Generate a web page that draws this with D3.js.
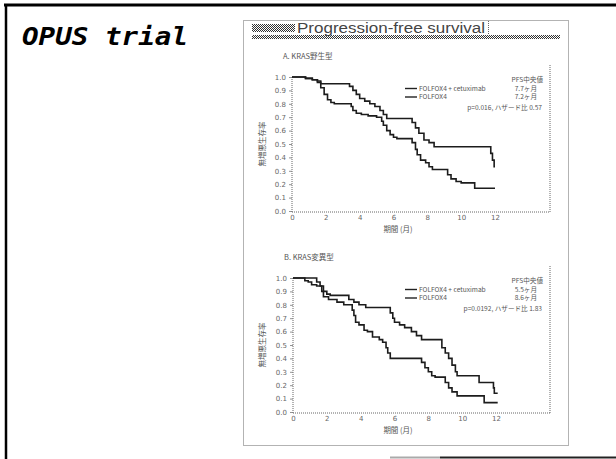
<!DOCTYPE html>
<html>
<head>
<meta charset="utf-8">
<script src="https://cdn.jsdelivr.net/npm/d3@7"></script>
<style>
  body { margin: 0; background: #fff; }
  svg { display: block; }
  .tick text { font-family: "DejaVu Sans", sans-serif; font-size: 7px; fill: #666; }
  .tick line { stroke: #777; stroke-width: 0.8; }
  .small { font-family: "Noto Sans CJK JP", sans-serif; font-size: 7.5px; fill: #555; }
  .leg { font-family: "Noto Sans CJK JP", sans-serif; font-size: 6.6px; fill: #555; }
  .dotted { fill: none; stroke: #666; stroke-width: 1; stroke-dasharray: 1,1; }
  .km { fill: none; stroke: #1c1c1c; stroke-width: 1.6; }
</style>
</head>
<body>
<svg id="chart" width="616" height="459"></svg>
<script>
// tick labels
var months = [0, 2, 4, 6, 8, 10, 12];
var survTicks = [0, 0.1, 0.2, 0.3, 0.4, 0.5, 0.6, 0.7, 0.8, 0.9, 1.0];

// A. KRAS wild type  [month, survival]
var wtCetux = [[0,1.0],[0.8,0.99],[1.2,0.98],[1.5,0.97],[1.7,0.95],[3.4,0.93],[3.6,0.90],[3.8,0.87],
  [4.0,0.84],[4.3,0.82],[4.6,0.80],[4.9,0.78],[5.2,0.75],[5.4,0.72],[5.6,0.69],[7.1,0.66],[7.3,0.62],
  [7.5,0.58],[7.8,0.53],[8.1,0.51],[8.4,0.48],[11.75,0.43],[11.85,0.38],[11.95,0.33],[12.0,0.33]];
var wtFolfox = [[0,1.0],[0.8,0.99],[1.2,0.98],[1.5,0.96],[1.7,0.92],[1.9,0.87],[2.1,0.83],[2.3,0.81],
  [2.5,0.80],[3.5,0.78],[3.6,0.75],[3.8,0.73],[4.1,0.72],[4.5,0.71],[5.0,0.70],[5.3,0.67],[5.4,0.64],
  [5.6,0.60],[5.8,0.57],[6.0,0.55],[6.2,0.54],[7.1,0.51],[7.3,0.46],[7.4,0.42],[7.6,0.38],[7.9,0.36],
  [8.1,0.33],[8.3,0.31],[9.2,0.27],[9.4,0.24],[9.7,0.22],[10.0,0.21],[10.8,0.17],[12.0,0.17]];

// B. KRAS mutant
var mtCetux = [[0,1.0],[0.7,0.98],[0.9,0.97],[1.1,0.95],[1.4,0.94],[1.7,0.90],[1.8,0.86],[2.1,0.84],
  [2.6,0.82],[3.0,0.80],[3.5,0.76],[3.6,0.72],[3.7,0.67],[3.9,0.65],[4.2,0.61],[4.4,0.60],[4.7,0.56],
  [5.1,0.54],[5.3,0.52],[5.5,0.48],[5.6,0.44],[5.75,0.40],[7.6,0.37],[7.8,0.33],[8.0,0.30],[8.2,0.27],
  [8.4,0.26],[9.0,0.22],[9.2,0.18],[9.4,0.15],[9.7,0.12],[11.3,0.07],[12.1,0.07]];
var mtFolfox = [[0,1.0],[1.4,0.97],[1.6,0.94],[1.8,0.90],[2.0,0.88],[2.2,0.87],[3.3,0.84],[3.6,0.82],
  [3.9,0.80],[4.3,0.78],[5.75,0.74],[5.9,0.70],[6.0,0.67],[6.3,0.65],[6.6,0.63],[7.0,0.60],[7.3,0.57],
  [7.6,0.54],[8.8,0.48],[9.0,0.44],[9.2,0.40],[9.4,0.35],[9.6,0.30],[9.7,0.27],[11.0,0.22],[11.85,0.18],
  [11.9,0.14],[12.1,0.14]];

var armNames = ["FOLFOX4 + cetuximab", "FOLFOX4"];
var wtMedians = ["7.7ヶ月", "7.2ヶ月"];
var mtMedians = ["5.5ヶ月", "8.6ヶ月"];

var svg = d3.select("#chart");

// stipple pattern for the title band
var defs = svg.append("defs");
var pat = defs.append("pattern").attr("id", "stip")
  .attr("width", 2).attr("height", 2).attr("patternUnits", "userSpaceOnUse");
pat.append("rect").attr("width", 2).attr("height", 2).attr("fill", "#fff");
pat.append("rect").attr("width", 1).attr("height", 1).attr("fill", "#333");
pat.append("rect").attr("x", 1).attr("y", 1).attr("width", 1).attr("height", 1).attr("fill", "#333");

// outer black frame of the slide
svg.append("line").attr("x1", 4).attr("x2", 616).attr("y1", 5).attr("y2", 5)
  .attr("stroke", "#000").attr("stroke-width", 3);
svg.append("line").attr("x1", 6).attr("x2", 6).attr("y1", 4).attr("y2", 459)
  .attr("stroke", "#000").attr("stroke-width", 2.5);
svg.append("line").attr("x1", 390).attr("x2", 440).attr("y1", 457.5).attr("y2", 457.5)
  .attr("stroke", "#aaa").attr("stroke-width", 2);
svg.append("line").attr("x1", 440).attr("x2", 616).attr("y1", 457.5).attr("y2", 457.5)
  .attr("stroke", "#222").attr("stroke-width", 2);

svg.append("text").text("OPUS trial")
  .attr("x", 22).attr("y", 45)
  .attr("font-family", "DejaVu Sans Mono, monospace")
  .attr("font-weight", "bold").attr("font-style", "italic")
  .attr("font-size", 25).attr("textLength", 166).attr("lengthAdjust", "spacingAndGlyphs")
  .attr("fill", "#000");

// figure panel
svg.append("rect").attr("class", "dotted")
  .attr("x", 243.5).attr("y", 20.5).attr("width", 325).attr("height", 425);
svg.append("rect").attr("x", 252).attr("y", 24).attr("width", 43).attr("height", 8).attr("fill", "url(#stip)");
svg.append("rect").attr("x", 252).attr("y", 35).attr("width", 308).attr("height", 4).attr("fill", "url(#stip)");
svg.append("line").attr("class", "dotted").attr("x1", 488.5).attr("x2", 488.5).attr("y1", 21).attr("y2", 34);
svg.append("text").text("Progression-free survival")
  .attr("x", 297).attr("y", 33)
  .attr("font-family", "Liberation Sans, Arial, sans-serif")
  .attr("font-size", 14).attr("textLength", 188).attr("lengthAdjust", "spacingAndGlyphs")
  .attr("fill", "#444");

var line = d3.line().curve(d3.curveStepAfter);

draw_panel = function(p) {
  var x = d3.scaleLinear().domain([0, 12]).range([p.left, p.left + 203]);
  var y = d3.scaleLinear().domain([0, 1]).range([p.bottom, p.bottom - 134]);
  line.x(function(d) { return x(d[0]); }).y(function(d) { return y(d[1]); });

  var g = svg.append("g");

  g.append("text").attr("class", "small").text(p.label)
    .attr("x", p.left - 9).attr("y", p.bottom - 152);

  // axes (dotted like the scan)
  g.append("line").attr("class", "dotted")
    .attr("x1", p.left).attr("x2", 550).attr("y1", p.bottom + 1).attr("y2", p.bottom + 1);
  g.append("line").attr("class", "dotted")
    .attr("x1", p.left).attr("x2", p.left).attr("y1", y(1)).attr("y2", p.bottom + 1);
  g.append("line").attr("class", "dotted")
    .attr("x1", 550).attr("x2", 550).attr("y1", p.bottom - 146).attr("y2", p.bottom + 1);

  var ya = g.append("g").attr("transform", "translate(" + p.left + ",0)")
    .call(d3.axisLeft(y).tickValues(survTicks).tickFormat(d3.format(".1f")).tickSize(3).tickPadding(3));
  ya.select(".domain").remove();
  var xa = g.append("g").attr("transform", "translate(0," + (p.bottom + 1) + ")")
    .call(d3.axisBottom(x).tickValues(months).tickSize(0).tickPadding(3));
  xa.select(".domain").remove();

  g.append("text").attr("class", "small").text("期間 (月)")
    .attr("text-anchor", "middle").attr("x", 398).attr("y", p.bottom + 21);
  g.append("text").attr("class", "small").text("無増悪生存率")
    .attr("text-anchor", "middle")
    .attr("transform", "translate(265," + y(0.5) + ") rotate(-90)");

  g.append("path").datum(p.arms[0]).attr("class", "km").attr("d", line);
  g.append("path").datum(p.arms[1]).attr("class", "km").attr("d", line);

  // legend
  var ly = y(1);
  g.append("text").attr("class", "leg").text("PFS中央値")
    .attr("text-anchor", "end").attr("x", 543).attr("y", ly + 5);
  for (i = 0; i < 2; i++) {
    var yy = ly + 11.5 + i * 8.5;
    g.append("line").attr("x1", 405).attr("x2", 417).attr("y1", yy).attr("y2", yy)
      .attr("stroke", "#222").attr("stroke-width", 1.4);
    g.append("text").attr("class", "leg").text(armNames[i])
      .attr("x", 419).attr("y", yy + 2.3);
    g.append("text").attr("class", "leg").text(p.medians[i])
      .attr("text-anchor", "end").attr("x", 537).attr("y", yy + 2.3);
  }
  g.append("text").attr("class", "leg").text(p.stat)
    .attr("text-anchor", "end").attr("x", 542).attr("y", ly + 33);
}

draw_panel({ left: 292, bottom: 211, label: "A. KRAS野生型", arms: [wtCetux, wtFolfox],
  medians: wtMedians, stat: "p=0.016, ハザード比 0.57" });
draw_panel({ left: 293, bottom: 412, label: "B. KRAS変異型", arms: [mtCetux, mtFolfox],
  medians: mtMedians, stat: "p=0.0192, ハザード比 1.83" });
</script>
</body>
</html>
